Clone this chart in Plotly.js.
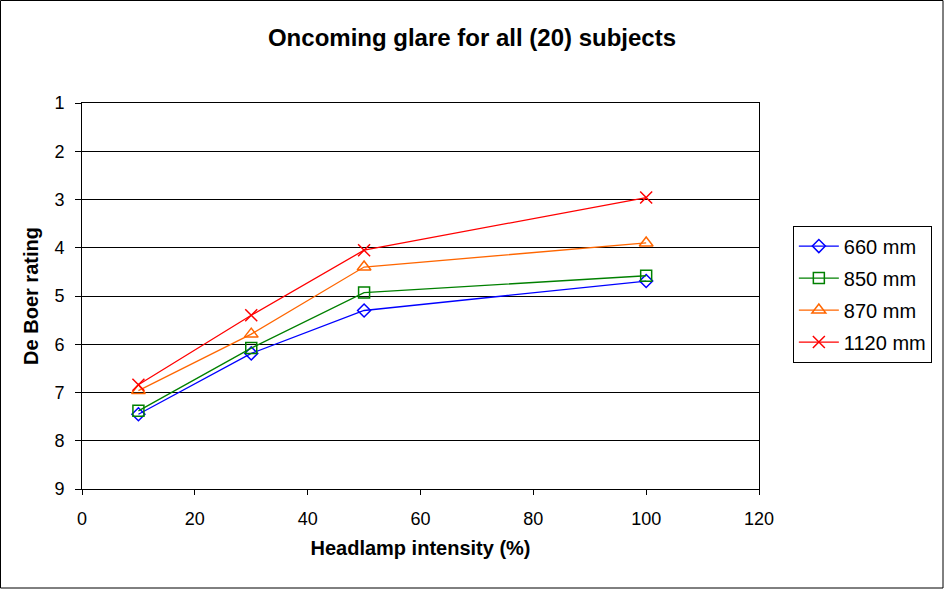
<!DOCTYPE html>
<html><head><meta charset="utf-8">
<script src="https://cdn.plot.ly/plotly-3.0.1.min.js"></script>
<style>body{margin:0;}#chart{width:944px;height:589px;}</style>
</head><body><div id="chart"></div>
<script>
const intensity = [10, 30, 50, 100];
const seriesNames = ["660 mm", "850 mm", "870 mm", "1120 mm"];
const s660 = [7.45, 6.19, 5.30, 4.69];
const s850 = [7.38, 6.08, 4.93, 4.58];
const s870 = [6.96, 5.79, 4.40, 3.90];
const s1120 = [6.84, 5.40, 4.05, 2.96];
const yTicks = [1, 2, 3, 4, 5, 6, 7, 8, 9];
const xTicks = [0, 20, 40, 60, 80, 100, 120];

const colors = ["#0000FF", "#008000", "#FF6600", "#FF0000"];
const symbols = ["diamond-open", "square-open", "triangle-up-open", "x-thin-open"];
const sizes = [10, 11, 12, 12];
const data = [s660, s850, s870, s1120].map((ys, i) => ({
  x: intensity, y: ys, name: seriesNames[i], type: "scatter", mode: "lines+markers",
  legendgroup: "g" + i,
  line: {color: colors[i], width: 1.3},
  marker: {symbol: symbols[i], size: sizes[i], color: colors[i], line: {color: colors[i], width: 1.5}}
}));

const font = {family: "Liberation Sans, Arial, sans-serif", color: "#000"};
const layout = {
  width: 944, height: 589,
  margin: {l: 82, r: 185, t: 103, b: 100},
  paper_bgcolor: "#fff", plot_bgcolor: "#fff",
  font: Object.assign({size: 18}, font),
  title: {text: "<b>Oncoming glare for all (20) subjects</b>", font: Object.assign({size: 24}, font), x: 0.5, xref: "container", xanchor: "center", y: 1 - 38/589, yanchor: "middle"},
  xaxis: {
    range: [0, 120], tickvals: xTicks, ticktext: xTicks.map(String),
    ticks: "outside", ticklen: 5, tickcolor: "#000", showgrid: false, zeroline: false,
    showline: true, linecolor: "#000", linewidth: 1, mirror: true, ticklabelstandoff: 8,
    tickfont: Object.assign({size: 18}, font),
    title: {text: "<b>Headlamp intensity (%)</b>", font: Object.assign({size: 20}, font), standoff: 13}
  },
  yaxis: {
    range: [9, 1], tickvals: yTicks, ticktext: yTicks.map(String),
    ticks: "outside", ticklen: 6, tickcolor: "#000", showgrid: true, gridcolor: "#000", gridwidth: 1,
    zeroline: false, showline: true, linecolor: "#000", linewidth: 1, mirror: true, ticklabelstandoff: 7,
    tickfont: Object.assign({size: 18}, font),
    title: {text: "<b>De Boer rating</b>", font: Object.assign({size: 20}, font), standoff: 10}
  },
  legend: {x: 1.05, xanchor: "left", y: 0.505, yanchor: "middle", bordercolor: "#000", borderwidth: 1,
    font: Object.assign({size: 20}, font), tracegroupgap: 3, itemwidth: 40, traceorder: "grouped"},
  showlegend: true,
  shapes: [{type: "rect", xref: "paper", yref: "paper", x0: -81.5/677, x1: 1 + 184/677, y0: -99/386, y1: 1 + 102.5/386, line: {color: "#000", width: 1}}]
};
Plotly.newPlot("chart", data, layout, {displayModeBar: false, staticPlot: true});
</script></body></html>
